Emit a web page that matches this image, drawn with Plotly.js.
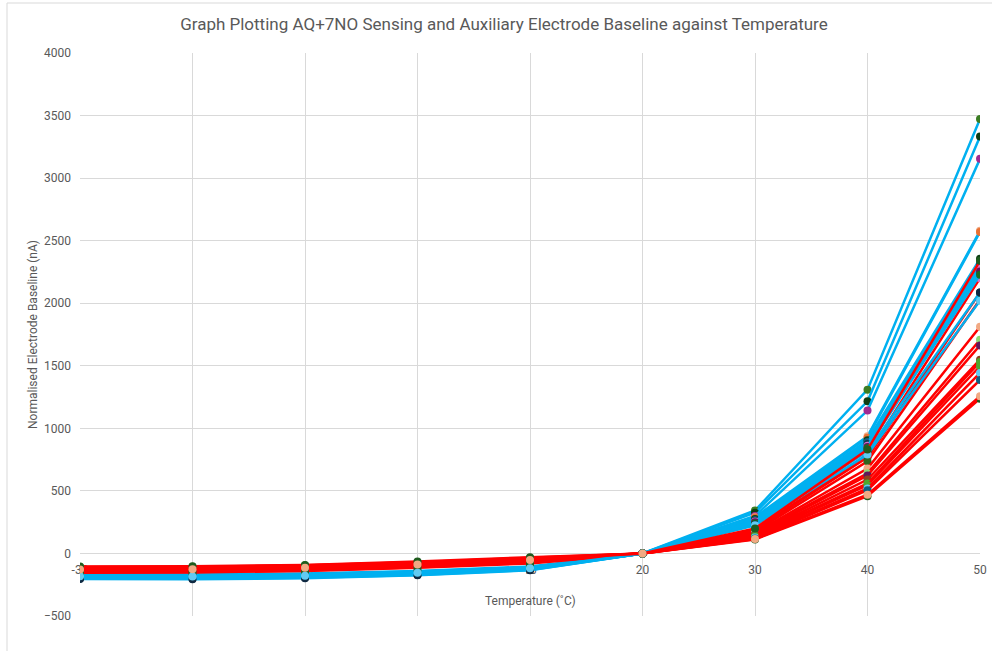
<!DOCTYPE html>
<html>
<head>
<meta charset="utf-8">
<script src="https://cdn.plot.ly/plotly-3.0.1.min.js"></script>
<style>html,body{margin:0;padding:0;background:#fff;}#chart{width:992px;height:651px;}</style>
</head>
<body>
<div id="chart"></div>
<script>
// Temperatures (x categories / tick labels)
const temps = [-30, -20, -10, 0, 10, 20, 30, 40, 50];
const tickLabels = ["-30", "-20", "-10", "0", "10", "20", "30", "40", "50"];

// Blue series (normalised baseline, nA)
const b01 = [-170, -172, -165, -145, -110, 0, 343, 1309, 3473];
const b02 = [-175, -178, -170, -150, -115, 0, 325, 1216, 3332];
const b03 = [-180, -182, -175, -155, -118, 0, 300, 1142, 3154];
const b04 = [-185, -188, -180, -160, -122, 0, 290, 937, 2579];
const b05 = [-190, -192, -185, -163, -125, 0, 285, 925, 2570];
const b06 = [-195, -198, -190, -168, -128, 0, 275, 905, 2355];
const b07 = [-165, -168, -160, -140, -105, 0, 265, 890, 2320];
const b08 = [-200, -203, -195, -172, -132, 0, 260, 875, 2300];
const b09 = [-178, -180, -172, -150, -112, 0, 255, 860, 2280];
const b10 = [-188, -190, -182, -158, -120, 0, 250, 851, 2254];
const b11 = [-172, -175, -168, -148, -110, 0, 240, 840, 2227];
const b12 = [-205, -207, -198, -175, -135, 0, 230, 817, 2086];
const b13 = [-182, -185, -178, -155, -118, 0, 225, 790, 2020];

// Red series (normalised baseline, nA)
const r01 = [-105, -103, -92, -65, -30, 0, 200, 830, 2339];
const r02 = [-110, -108, -97, -70, -35, 0, 190, 790, 2200];
const r03 = [-115, -113, -102, -75, -40, 0, 186, 769, 2086];
const r04 = [-120, -118, -107, -80, -45, 0, 175, 737, 2030];
const r05 = [-125, -123, -112, -85, -50, 0, 165, 679, 1812];
const r06 = [-130, -128, -117, -90, -55, 0, 160, 640, 1708];
const r07 = [-135, -133, -122, -95, -60, 0, 152, 623, 1663];
const r08 = [-140, -138, -127, -100, -65, 0, 145, 591, 1549];
const r09 = [-108, -106, -95, -70, -38, 0, 140, 560, 1530];
const r10 = [-145, -143, -132, -105, -70, 0, 135, 546, 1496];
const r11 = [-118, -116, -105, -80, -45, 0, 128, 520, 1443];
const r12 = [-150, -148, -137, -110, -75, 0, 120, 505, 1387];
const r13 = [-155, -152, -140, -115, -80, 0, 112, 457, 1237];
const r14 = [-128, -126, -115, -88, -52, 0, 116, 470, 1256];

const blueSeries = [b01, b02, b03, b04, b05, b06, b07, b08, b09, b10, b11, b12, b13];
const redSeries = [r01, r02, r03, r04, r05, r06, r07, r08, r09, r10, r11, r12, r13, r14];

// styles
const blueMarkers = ["#3B7D23", "#0E3D14", "#A02B93", "#F1A983", "#E97132", "#0F4016", "#156082",
                     "#0C3A4E", "#D86ECC", "#60175A", "#196B24", "#0E2841", "#61CBF3"];
const redMarkers = ["#1E5C1E", "#D86ECC", "#0C3A4E", "#2F641C", "#F1A983", "#8ED873", "#60175A",
                    "#8B431E", "#4EA72E", "#4EA72E", "#61CBF3", "#0D5F80", "#1E5C1E", "#F1A983"];
// drawing order: pairs, with the highest red line and the peach-marked red line drawn last
const drawOrder = [["b", 0], ["r", 1], ["b", 1], ["r", 2], ["b", 2], ["r", 3], ["b", 3], ["r", 4],
                   ["b", 4], ["r", 5], ["b", 5], ["r", 6], ["b", 6], ["r", 7], ["b", 7], ["r", 8],
                   ["b", 8], ["r", 9], ["b", 9], ["r", 10], ["b", 10], ["r", 11], ["b", 11], ["r", 12],
                   ["b", 12], ["r", 0], ["r", 13]];

const traces = drawOrder.map(([k, i]) => {
  const isBlue = k === "b";
  return {
    x: temps, y: isBlue ? blueSeries[i] : redSeries[i], type: "scatter", mode: "lines+markers",
    line: {color: isBlue ? "#00B0F0" : "#FF0000", width: 2.5},
    marker: {color: isBlue ? blueMarkers[i] : redMarkers[i], size: 8},
    showlegend: false, hoverinfo: "x+y"
  };
});

const font = "Roboto, 'Open Sans', sans-serif";
const layout = {
  width: 992, height: 651,
  margin: {l: 80, r: 12, t: 53, b: 35},
  paper_bgcolor: "#ffffff", plot_bgcolor: "#ffffff",
  font: {family: font, color: "#595959", size: 12},
  title: {
    text: "Graph Plotting AQ+7NO Sensing and Auxiliary Electrode Baseline against Temperature",
    font: {family: font, size: 17, color: "#595959"},
    x: 0.508, xref: "container", xanchor: "center",
    y: 0.963, yref: "container", yanchor: "middle"
  },
  xaxis: {
    range: [-30, 50], tickmode: "array", tickvals: temps, ticktext: tickLabels,
    showgrid: true, gridcolor: "#D9D9D9", gridwidth: 1,
    zeroline: false, showline: false, ticks: "",
    anchor: "free", position: 500 / 4500 - 8 / 563, layer: "below traces",
    tickfont: {family: font, size: 12, color: "#595959"}
  },
  yaxis: {
    range: [-500, 4000], dtick: 500, tick0: 0,
    showgrid: true, gridcolor: "#D9D9D9", gridwidth: 1,
    zeroline: false, showline: false, ticks: "",
    ticklabelstandoff: 8,
    tickfont: {family: font, size: 12, color: "#595959"},
    title: {text: "Normalised Electrode Baseline (nA)", font: {family: font, size: 12, color: "#595959"}, standoff: 3}
  },
  annotations: [{
    text: "Temperature (˚C)", xref: "paper", yref: "paper",
    x: 0.5, y: (616 - 601) / 563, xanchor: "center", yanchor: "middle",
    showarrow: false, font: {family: font, size: 12, color: "#595959"}
  }],
  shapes: [{
    type: "rect", xref: "paper", yref: "paper",
    x0: (7 - 80) / 900, x1: 1.1, y0: -0.2, y1: (616 - 3) / 563,
    line: {color: "#D9D9D9", width: 1}, fillcolor: "rgba(0,0,0,0)", layer: "below"
  }]
};

Plotly.newPlot("chart", traces, layout, {displayModeBar: false, staticPlot: true});
</script>
</body>
</html>
